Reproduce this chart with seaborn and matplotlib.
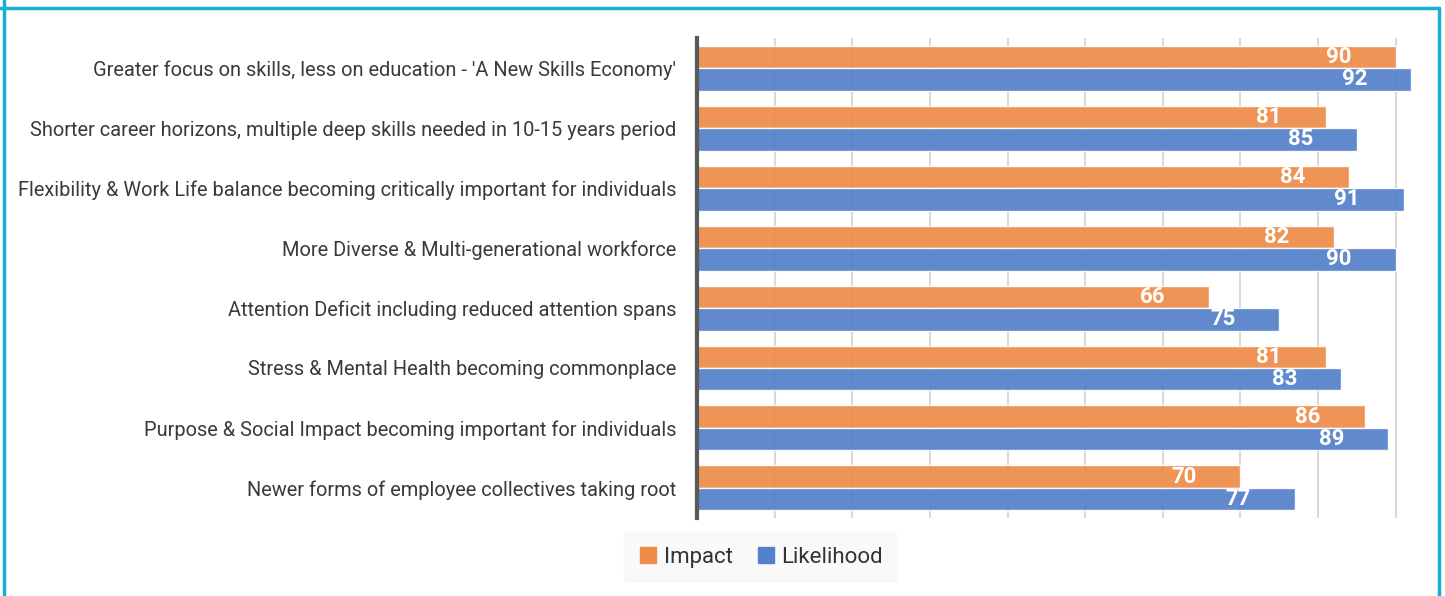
import numpy as np
import pandas as pd
import seaborn as sns
import matplotlib.pyplot as plt
from matplotlib.lines import Line2D

# data
trends = [
    "Greater focus on skills, less on education - 'A New Skills Economy'",
    "Shorter career horizons, multiple deep skills needed in 10-15 years period",
    "Flexibility & Work Life balance becoming critically important for individuals",
    "More Diverse & Multi-generational workforce",
    "Attention Deficit including reduced attention spans",
    "Stress & Mental Health becoming commonplace",
    "Purpose & Social Impact becoming important for individuals",
    "Newer forms of employee collectives taking root",
]
impact = [90, 81, 84, 82, 66, 81, 86, 70]
likelihood = [92, 85, 91, 90, 75, 83, 89, 77]
series = ["Impact", "Likelihood"]

df = pd.DataFrame({
    "trend": trends * 2,
    "score": impact + likelihood,
    "series": ["Impact"] * len(trends) + ["Likelihood"] * len(trends),
})

colors = {"Impact": "#EE8C4A", "Likelihood": "#5580CB"}

sns.set_theme(style="white")
plt.rcParams["font.family"] = ["Roboto", "DejaVu Sans"]

fig = plt.figure(figsize=(14.45, 5.96), dpi=100)
ax = fig.add_axes([0.4824, 0.131, 0.505, 0.805])

sns.barplot(data=df, y="trend", x="score", hue="series", order=trends,
            hue_order=series, palette=colors, orient="h", width=0.75,
            saturation=1, alpha=0.93, edgecolor="white", linewidth=1.0,
            ax=ax, legend=False, zorder=2)

ax.set_xlim(0, 94)
ax.set_ylim(7.5, -0.5)
ax.set_xticks(np.arange(0, 91, 10))
ax.set_xticklabels([])
ax.grid(axis="x", color="#D9D9D9", linewidth=1.5, zorder=0)
ax.grid(axis="y", visible=False)
ax.set_axisbelow(True)
for s in ["top", "right", "bottom"]:
    ax.spines[s].set_visible(False)
ax.spines["left"].set_color("#595959")
ax.spines["left"].set_linewidth(3)
ax.spines["left"].set_zorder(3)
ax.tick_params(axis="y", length=0, pad=15, labelsize=14.4, labelcolor="#3A3A3A")
ax.tick_params(axis="x", length=0)
ax.set_xlabel("")
ax.set_ylabel("")

# value labels near the bar ends
for cont in ax.containers:
    for bar in cont:
        w = bar.get_width()
        yc = bar.get_y() + bar.get_height() / 2
        ax.annotate(f"{w:.0f}", xy=(w, yc), xytext=(-44, 0),
                    textcoords="offset pixels", ha="right", va="center",
                    color="white", fontsize=16, fontweight="bold", zorder=4)

handles = [Line2D([0], [0], marker="s", linestyle="", markersize=11,
                  markerfacecolor=colors[s], markeredgecolor=colors[s])
           for s in series]
leg = fig.legend(handles, series, loc="center", bbox_to_anchor=(0.526, 0.065),
                 ncol=2, frameon=True, fontsize=16, handletextpad=0.2,
                 columnspacing=1.0, borderpad=0.6, fancybox=False,
                 handlelength=1.0)
leg.get_frame().set_facecolor("#F8F8F8")
leg.get_frame().set_edgecolor("#F8F8F8")
for t in leg.get_texts():
    t.set_color("#333333")

# cyan frame around the figure
frame_c = "#17AFD3"
fig.add_artist(Line2D([0, 0.996], [1 - 7.5 / 596] * 2, color=frame_c, lw=2.5,
                      transform=fig.transFigure))
fig.add_artist(Line2D([4 / 1445] * 2, [0, 1], color=frame_c, lw=2.5,
                      transform=fig.transFigure))
fig.add_artist(Line2D([1438.5 / 1445] * 2, [0, 1 - 7.5 / 596], color=frame_c,
                      lw=2.5, transform=fig.transFigure))

fig.savefig("out.png", dpi=100)
